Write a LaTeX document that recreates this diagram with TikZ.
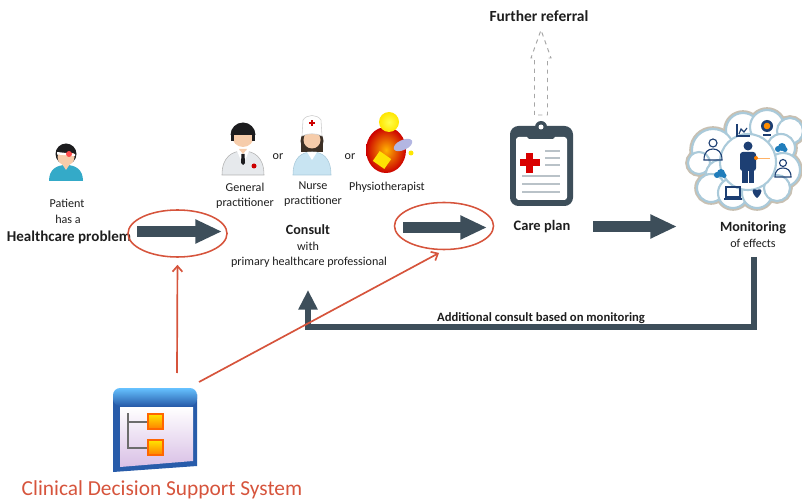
\documentclass[tikz,border=0pt]{standalone}
\usepackage{fontspec}
\setmainfont{Carlito}
\usetikzlibrary{arrows.meta,shapes.geometric}

\definecolor{txt}{RGB}{30,30,30}
\definecolor{slate}{RGB}{61,78,90}
\definecolor{cdsred}{RGB}{214,84,60}
\definecolor{skin}{RGB}{246,204,170}
\definecolor{hair}{RGB}{28,28,30}
\definecolor{patteal}{RGB}{52,170,200}
\definecolor{coat}{RGB}{230,233,236}
\definecolor{nurseblue}{RGB}{200,228,242}
\definecolor{navy}{RGB}{29,63,115}
\definecolor{bubblue}{RGB}{170,202,218}
\definecolor{cloudtan}{RGB}{200,192,178}
\definecolor{linegray}{RGB}{185,194,200}
\definecolor{winblue}{RGB}{40,92,170}

\begin{document}
\begin{tikzpicture}[x=0.025cm,y=-0.025cm,
  lbl/.style={font=\fontsize{8.6}{10.5}\selectfont,text=txt,inner sep=0,align=center},
  head/.style={font=\bfseries\fontsize{10}{12}\selectfont,text=txt,inner sep=0},
  flow/.style={draw=slate,line width=7.8pt,-{Triangle[length=19pt,width=16pt]}},
  back/.style={draw=slate,line width=4.3pt,-{Triangle[length=14pt,width=13pt]}},
  hint/.style={draw=cdsred,line width=1.2pt,-{Straight Barb[length=4pt,width=7pt]}},
  ring/.style={ellipse,draw=cdsred,line width=1.1pt,inner sep=0,minimum width=2.475cm,minimum height=1.175cm},
  refer/.style={draw=gray!70,dashed,line width=0.7pt},
  bubble/.style={draw=bubblue,line width=1.5pt,fill=white},
  ico/.style={draw=navy,line width=0.8pt},
]
\useasboundingbox (0,0) rectangle (802,504);

% patient
\begin{scope}[shift={(66,163)}]
  \fill[patteal] (-17,18) .. controls (-17,6) and (-9,2) .. (0,2) .. controls (9,2) and (17,6) .. (17,18) -- cycle;
  \fill[skin] (-4,1) -- (4,1) -- (0,7) -- cycle;
  \fill[hair] (0,-9) circle (10.5);
  \fill[skin] (0,-6) circle (8.5);
  \begin{scope}
    \clip (-12,-22) rectangle (12,-10);
    \fill[hair] (0,-8) circle (10.5);
  \end{scope}
  \fill[white] (-9,-11) -- (9,-9) -- (9,-7) -- (-9,-8.5) -- cycle;
  \fill[red!70!white] (3,-9) circle (3);
\end{scope}

% general practitioner
\begin{scope}[shift={(243,146)}]
  \fill[coat,draw=gray!60] (-21,29) .. controls (-21,11) and (-11,5) .. (0,5) .. controls (11,5) and (21,11) .. (21,29) -- cycle;
  \fill[white] (-6,5) -- (6,5) -- (0,19) -- cycle;
  \fill[hair] (-1.5,8) -- (1.5,8) -- (2,17) -- (0,19) -- (-2,17) -- cycle;
  \fill[skin] (-4,3) -- (4,3) -- (0,8) -- cycle;
  \fill[skin] (0,-10) circle (11);
  \begin{scope}
    \clip (-14,-28) rectangle (14,-11);
    \fill[hair] (0,-11) circle (12.5);
  \end{scope}
  \fill[hair] (-12,-12) rectangle (-9,-5);
  \fill[hair] (9,-12) rectangle (12,-5);
  \fill[red!80!black] (11,20) circle (2.5);
\end{scope}

% nurse practitioner
\begin{scope}[shift={(312,144)}]
  \fill[hair!80!brown] (0,-3) circle (11.5);
  \fill[hair!80!brown] (-11,-3) rectangle (11,8);
  \fill[nurseblue,draw=bubblue] (-19,31) .. controls (-19,13) and (-10,8) .. (0,8) .. controls (10,8) and (19,13) .. (19,31) -- cycle;
  \fill[white] (-5,8) -- (5,8) -- (0,16) -- cycle;
  \fill[skin] (0,-4) circle (8.5);
  \fill[white,draw=gray!40] (-10,-8) -- (-9,-24) .. controls (-5,-30) and (5,-30) .. (9,-24) -- (10,-8) .. controls (4,-11) and (-4,-11) .. (-10,-8) -- cycle;
  \fill[red!80!black] (-1,-24) rectangle (1,-18);
  \fill[red!80!black] (-3,-22) rectangle (3,-20);
\end{scope}

% physiotherapist
\begin{scope}[shift={(388,142)}]
  \shade[inner color=orange!60!yellow,outer color=red!80!black] (-2,8) ellipse (20 and 23);
  \shade[inner color=yellow!70!white,outer color=yellow!80!orange] (1,-20) circle (10);
  \fill[yellow!85!orange,rotate around={-35:(-6,18)}] (-13,12) rectangle (1,24);
  \fill[cyan!25!blue!30,rotate around={25:(15,3)}] (15,3) ellipse (10 and 5);
  \fill[yellow!90!orange] (23,11) circle (2.5);
\end{scope}

% care plan clipboard
\fill[slate,rounded corners=6] (510,126) rectangle (573,206);
\fill[white,rounded corners=2] (516,137) rectangle (567,200);
\fill[slate,rounded corners=2] (527,131) rectangle (555,139);
\fill[slate] (541,127) circle (6);
\fill[white] (541,127) circle (2.5);
\fill[red!85!black] (526,153) rectangle (533,173);
\fill[red!85!black] (519.5,159.5) rectangle (539.5,166.5);
\foreach \yy in {151,158,165}
  \draw[linegray,line width=2pt] (545,\yy) -- (560,\yy);
\foreach \yy in {176,184,192}
  \draw[linegray,line width=2pt] (522,\yy) -- (560,\yy);

% monitoring cloud
\foreach \cx/\cy/\r in {743/130/17,767/127/17,790/131/13,781/148/14,783/170/17,713/150/21,699/163/11,720/174/14,711/188/14,733/193/15,757/193/15,777/188/13,748/162/28}
  \draw[cloudtan,line width=4pt] (\cx,\cy) circle (\r);
\foreach \cx/\cy/\r in {743/130/17,767/127/17,790/131/13,781/148/14,783/170/17,713/150/21,699/163/11,720/174/14,711/188/14,733/193/15,757/193/15,777/188/13,748/162/28}
  \draw[bubble] (\cx,\cy) circle (\r);
\fill[navy] (748,146) circle (4.5);
\fill[navy,rounded corners=2] (740,152) rectangle (756,171);
\fill[navy] (742,170) rectangle (747.5,183);
\fill[navy] (748.5,170) rectangle (754,183);
\draw[orange!60,line width=0.5pt] (756,158) -- (770,158);
\fill[orange] (756,158) circle (2);
\draw[ico] (713,143) circle (4);
\draw[ico] (704,160) .. controls (704,152) and (708,149) .. (713,149) .. controls (718,149) and (722,152) .. (722,160) -- cycle;
\draw[ico] (783,163) circle (3.5);
\draw[ico] (775,177) .. controls (775,170) and (779,168) .. (783,168) .. controls (787,168) and (791,170) .. (791,177) -- cycle;
\draw[ico] (726,187) rectangle (740,197);
\draw[ico] (724,199) -- (742,199);
\fill[navy] (757,198) .. controls (751,193) and (751,187) .. (757,190) .. controls (763,187) and (763,193) .. (757,198) -- cycle;
\foreach \cx/\cy in {781/148,720/174} {
  \fill[winblue!80!cyan] (\cx-3,\cy+1) circle (3);
  \fill[winblue!80!cyan] (\cx+1,\cy-1) circle (4);
  \fill[winblue!80!cyan] (\cx+4,\cy+1.5) circle (2.5);
}
\fill[navy] (767,126) circle (6);
\fill[orange!90!yellow] (767,126) circle (3.3);
\draw[ico] (763,135) -- (771,135);
\draw[ico] (737,124) -- (737,136) -- (750,136);
\draw[ico] (739,134) -- (741,129) -- (744,132) -- (747,128);

% clinical decision support system window
\fill[winblue] (113,394) -- (113,472) -- (197,466) -- (197,394) -- cycle;
\shade[top color=cyan!60!blue!60,bottom color=winblue,rounded corners=5] (113,406) -- (113,388) -- (197,388) -- (197,406) -- cycle;
\shade[top color=white,bottom color=blue!20!violet!25] (120,407) -- (120,467) -- (193,461) -- (193,407) -- cycle;
\draw[gray!85!black,line width=1.6pt] (128,413) -- (128,448) -- (148,448);
\draw[gray!85!black,line width=1.6pt] (128,422) -- (148,422);
\shade[top color=yellow!80!orange,bottom color=orange,draw=orange!80!red,line width=1pt] (148,414) rectangle (163,429);
\shade[top color=yellow!80!orange,bottom color=orange,draw=orange!80!red,line width=1pt] (148,440) rectangle (163,455);

% labels
\node[lbl] (pat) at (67,203) {Patient};
\node[lbl] (hasa) at (68,219) {has a};
\node[head,font=\bfseries\fontsize{10.7}{12}\selectfont] (hp) at (69,237) {Healthcare problem};
\node[lbl] (gp) at (245,195.5) {General\\practitioner};
\node[lbl] (nurse) at (313,194) {Nurse\\practitioner};
\node[lbl] (physio) at (387,187) {Physiotherapist};
\node[lbl] (or1) at (278,157) {or};
\node[lbl] (or2) at (350,157) {or};
\node[head] (consult) at (308,230) {Consult};
\node[lbl] (with) at (308,246) {with};
\node[lbl] (prof) at (309,262) {primary healthcare professional};
\node[head,font=\bfseries\fontsize{10.3}{12}\selectfont] (care) at (542,227) {Care plan};
\node[head,font=\bfseries\fontsize{11}{13}\selectfont] (refer) at (539,16) {Further referral};
\node[head] (mon) at (753,228) {Monitoring};
\node[lbl] (eff) at (753,243) {of effects};
\node[lbl,font=\bfseries\fontsize{9}{11}\selectfont] (extra) at (541,318) {Additional consult based on monitoring};
\node[inner sep=0,text=cdsred,font=\fontsize{15.2}{18}\selectfont] (cdss) at (162,490) {Clinical Decision Support System};

% red rings round the decision points
\node[ring] (e1) at (177.5,233.5) {};
\node[ring] (e2) at (444,226) {};

% main flow
\coordinate (a1s) at (137,231.5);
\coordinate (a1e) at (222,231.5);
\coordinate (a2s) at (403,227.5);
\coordinate (a2e) at (487,227.5);
\coordinate (a3s) at (593,226.5);
\coordinate (a3e) at (677,226.5);
\draw[flow] (a1s) -- (a1e);
\draw[flow] (a2s) -- (a2e);
\draw[flow] (a3s) -- (a3e);

% further referral
\draw[refer] (534.5,115) -- (534.5,58) -- (531,58) -- (541,30) -- (551,58) -- (547.5,58) -- (547.5,115) -- cycle;

% feedback loop
\coordinate (mb) at (754,257);
\coordinate (fb) at (308,327);
\coordinate (cb) at (308,290);
\draw[back] (mb) |- (fb) -- (cb);

% decision support hints
\coordinate (cdtop) at (177,373);
\coordinate (cdedge) at (199,382);
\draw[hint,shorten >=5pt] (cdtop) -- (e1.south);
\draw[hint,shorten >=4pt] (cdedge) -- (e2.south);
\end{tikzpicture}
\end{document}
